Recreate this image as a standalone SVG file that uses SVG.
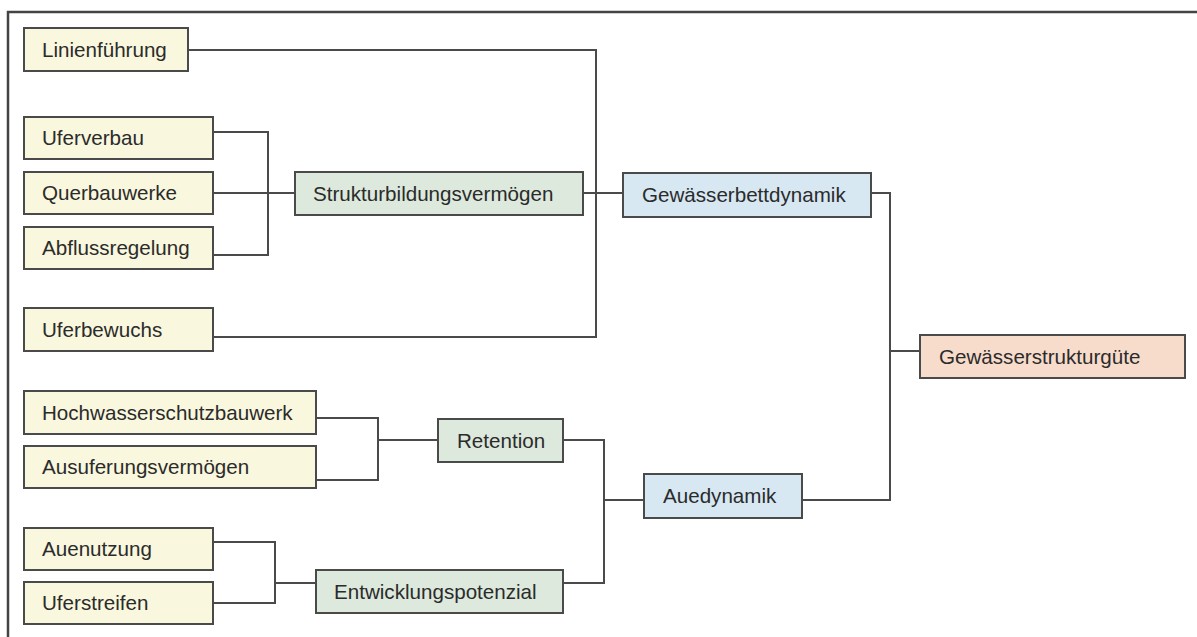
<svg xmlns="http://www.w3.org/2000/svg" width="1197" height="637" viewBox="0 0 1197 637">
<style>
.box{stroke:#4a4a4a;stroke-width:2}
.y{fill:#f9f7dd}
.g{fill:#dce9dc}
.b{fill:#d7e8f3}
.o{fill:#f8dccb}
text{font-family:"Liberation Sans",Arial,sans-serif;font-size:20.6px;fill:#2b2b2b}
#connectors path{fill:none;stroke:#4a4a4a;stroke-width:2}
</style>
<rect width="1197" height="637" fill="#ffffff"/>
<path d="M8,637 V12 H1197" fill="none" stroke="#444" stroke-width="2.5"/>
<g id="connectors">
<path d="M188,50 H596 V337 H213"/>
<path d="M583,193 H623"/>
<path d="M213,132 H268 V255 H213 M213,193 H295"/>
<path d="M316,418 H378 V480 H316 M378,440 H438"/>
<path d="M213,542 H275 V603 H213 M275,583 H316"/>
<path d="M563,440 H604 V583 H563 M604,500 H644"/>
<path d="M871,193 H890 V500 H802 M890,351 H920"/>
</g>
<g id="n-linienfuehrung"><rect class="box y" x="24" y="28" width="164" height="43"/><text x="42" y="57">Linienführung</text></g>
<g id="n-uferverbau"><rect class="box y" x="24" y="117" width="189" height="42"/><text x="42" y="145">Uferverbau</text></g>
<g id="n-querbauwerke"><rect class="box y" x="24" y="172" width="189" height="42"/><text x="42" y="200">Querbauwerke</text></g>
<g id="n-abflussregelung"><rect class="box y" x="24" y="227" width="189" height="42"/><text x="42" y="255">Abflussregelung</text></g>
<g id="n-uferbewuchs"><rect class="box y" x="24" y="308" width="189" height="43"/><text x="42" y="337">Uferbewuchs</text></g>
<g id="n-hochwasserschutzbauwerk"><rect class="box y" x="24" y="391" width="292" height="43"/><text x="42" y="420">Hochwasserschutzbauwerk</text></g>
<g id="n-ausuferungsvermoegen"><rect class="box y" x="24" y="446" width="292" height="42"/><text x="42" y="474">Ausuferungsvermögen</text></g>
<g id="n-auenutzung"><rect class="box y" x="24" y="528" width="189" height="42"/><text x="42" y="556">Auenutzung</text></g>
<g id="n-uferstreifen"><rect class="box y" x="24" y="582" width="189" height="42"/><text x="42" y="610">Uferstreifen</text></g>
<g id="n-strukturbildungsvermoegen"><rect class="box g" x="295" y="172" width="288" height="43"/><text x="313" y="201">Strukturbildungsvermögen</text></g>
<g id="n-retention"><rect class="box g" x="438" y="419" width="125" height="43"/><text x="457" y="448">Retention</text></g>
<g id="n-entwicklungspotenzial"><rect class="box g" x="316" y="570" width="247" height="43"/><text x="334" y="599">Entwicklungspotenzial</text></g>
<g id="n-gewaesserbettdynamik"><rect class="box b" x="623" y="173" width="248" height="44"/><text x="642" y="202">Gewässerbettdynamik</text></g>
<g id="n-auedynamik"><rect class="box b" x="644" y="474" width="158" height="44"/><text x="663" y="503">Auedynamik</text></g>
<g id="n-gewaesserstrukturguete"><rect class="box o" x="920" y="335" width="265" height="43"/><text x="939" y="364">Gewässerstrukturgüte</text></g>
</svg>
